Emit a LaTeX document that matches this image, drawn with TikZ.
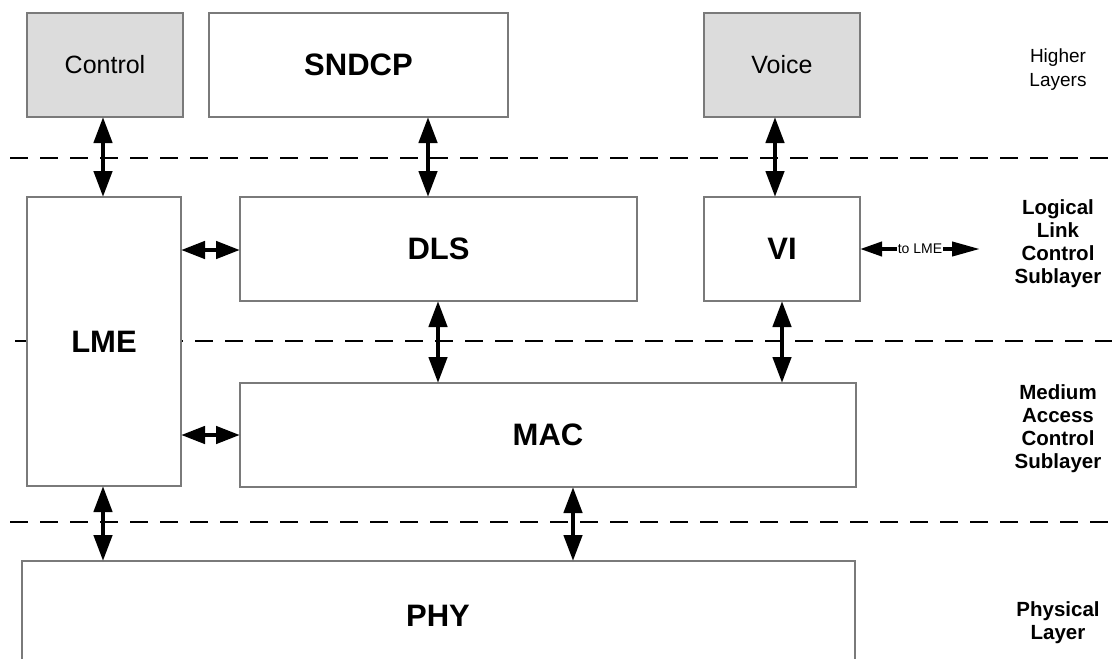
\documentclass[tikz,border=0pt]{standalone}
\usepackage{fontspec}
\setmainfont{Liberation Sans}
\usetikzlibrary{arrows.meta}
\definecolor{boxgray}{HTML}{DCDCDC}
\definecolor{edgegray}{HTML}{7A7A7A}
\tikzset{
  blk/.style={draw=edgegray, line width=1.3pt, fill=white, anchor=north west, inner sep=0pt, outer sep=0pt, font=\fontsize{31}{34}\selectfont\bfseries},
  shaded/.style={blk, fill=boxgray, font=\fontsize{25}{28}\selectfont},
  arr/.style={line width=4.5pt, {Triangle[length=26pt,width=18pt]}-{Triangle[length=26pt,width=18pt]}},
  sarr/.style={line width=4.5pt, {Triangle[length=24pt,width=17pt]}-{Triangle[length=24pt,width=17pt]}},
  layerline/.style={line width=2pt, dash pattern=on 18pt off 12pt},
  layerlbl/.style={align=center, font=\fontsize{20.5}{23}\selectfont\bfseries},
}
\begin{document}
\begin{tikzpicture}[x=1pt,y=-1pt]
\useasboundingbox (0,0) rectangle (1112,659);
% dashed layer separators
\draw[layerline] (10,158) -- (1112,158);
\draw[layerline] (15,341) -- (1112,341);
\draw[layerline] (10,522) -- (1112,522);
% boxes
\node[shaded, minimum width=156pt, minimum height=104pt] (ctrl) at (27,13) {Control};
\node[blk, minimum width=299pt, minimum height=104pt] (sndcp) at (209,13) {SNDCP};
\node[shaded, minimum width=156pt, minimum height=104pt] (voice) at (704,13) {Voice};
\node[blk, minimum width=154pt, minimum height=289pt] (lme) at (27,197) {LME};
\node[blk, minimum width=397pt, minimum height=104pt] (dls) at (240,197) {DLS};
\node[blk, minimum width=156pt, minimum height=104pt] (vi) at (704,197) {VI};
\node[blk, minimum width=616pt, minimum height=104pt] (mac) at (240,383) {MAC};
\node[draw=edgegray, line width=1.3pt, fill=white, anchor=north west, inner sep=0pt, outer sep=0pt, minimum width=833pt, minimum height=120pt] (phybox) at (22,561) {};
\node[font=\fontsize{31}{34}\selectfont\bfseries] (phy) at (438,616) {PHY};
% layer labels
\node[align=center, font=\fontsize{19}{24}\selectfont] (hl) at (1058,70) {Higher\\Layers};
\node[layerlbl] (llc) at (1058,244) {Logical\\Link\\Control\\Sublayer};
\node[layerlbl] (macl) at (1058,429) {Medium\\Access\\Control\\Sublayer};
\node[layerlbl] (phyl) at (1058,623) {Physical\\Layer};
% vertical connectors
\draw[arr] (103,0 |- ctrl.south) -- (103,0 |- lme.north);
\draw[arr] (428,0 |- sndcp.south) -- (428,0 |- dls.north);
\draw[arr] (775,0 |- voice.south) -- (775,0 |- vi.north);
\draw[arr] (438,0 |- dls.south) -- (438,0 |- mac.north);
\draw[arr] (782,0 |- vi.south) -- (782,0 |- mac.north);
\draw[arr] (103,0 |- lme.south) -- (103,0 |- phybox.north);
\draw[arr] (573,0 |- mac.south) -- (573,0 |- phybox.north);
% horizontal connectors
\draw[sarr] (lme.east |- 0,250) -- (dls.west |- 0,250);
\draw[sarr] (lme.east |- 0,435) -- (mac.west |- 0,435);
\coordinate (tolme) at (980,249);
\draw[line width=4pt, {Triangle[length=22pt,width=14pt]}-{Triangle[length=28pt,width=14pt]}] (vi.east |- tolme) -- (tolme) node[pos=0.5, fill=white, inner sep=0.5pt, font=\fontsize{14}{15}\selectfont] (tl) {to LME};
\end{tikzpicture}
\end{document}
